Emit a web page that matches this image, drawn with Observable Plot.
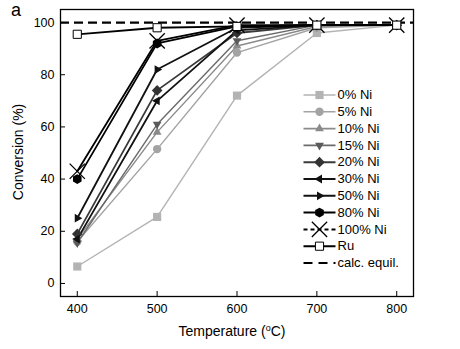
<!DOCTYPE html>
<html>
<head>
<meta charset="utf-8">
<script src="https://cdn.jsdelivr.net/npm/d3@7"></script>
<script src="https://cdn.jsdelivr.net/npm/@observablehq/plot@0.6"></script>
<style>
  html, body { margin: 0; padding: 0; background: #fff; }
  #chart { position: relative; width: 460px; height: 349px; }
  #panel { position: absolute; left: 11px; top: 0px; font: 18px "Liberation Sans", Arial, sans-serif; }
</style>
</head>
<body>
<div id="chart"><div id="panel">a</div></div>
<script>
// ---- data ----
const temperatures = [400, 500, 600, 700, 800];
const seriesNames = ["0% Ni", "5% Ni", "10% Ni", "15% Ni", "20% Ni", "30% Ni", "50% Ni", "80% Ni", "100% Ni", "Ru"];
const ni0   = [6.5, 25.5, 72, 96, 99];
const ni5   = [16, 51.5, 88.5, 98, 99];
const ni10  = [17, 58, 91, 98.5, 99];
const ni15  = [15.5, 61, 93, 99, 99];
const ni20  = [19, 74, 96, 99, 99];
const ni30  = [17, 70, 97, 99, 99];
const ni50  = [25, 82, 98, 99, 99];
const ni80  = [40, 92, 98.5, 99, 99];
const ni100 = [43, 93, 99, 99, 99];
const ru    = [95.5, 98, 98.5, 99, 99];
const equilibrium = 100;
const equilLabel = "calc. equil.";
const xTicks = [400, 500, 600, 700, 800];
const yTicks = [0, 20, 40, 60, 80, 100];
const xLabel = ["Temperature (", "o", "C)"];
const yLabel = "Conversion (%)";

const seriesValues = [ni0, ni5, ni10, ni15, ni20, ni30, ni50, ni80, ni100, ru];

// ---- custom symbols ----
function tri(angle) {
  return {
    draw(ctx, size) {
      const r = Math.sqrt(size / Math.PI) * 1.15;
      for (let k = 0; k < 3; k++) {
        const a = angle + k * 2 * Math.PI / 3;
        const px = r * Math.cos(a), py = r * Math.sin(a);
        if (k === 0) ctx.moveTo(px, py); else ctx.lineTo(px, py);
      }
      ctx.closePath();
    }
  };
}
const triUp = tri(-Math.PI / 2);
const triDown = tri(Math.PI / 2);
const triLeft = tri(Math.PI);
const triRight = tri(0);

const styles = [
  {color: "#b3b3b3", symbol: "square", fill: "#b3b3b3", r: 4.6},
  {color: "#a3a3a3", symbol: "circle", fill: "#a3a3a3", r: 4.2},
  {color: "#8a8a8a", symbol: triUp, fill: "#8a8a8a", r: 4.4},
  {color: "#6a6a6a", symbol: triDown, fill: "#5a5a5a", r: 4.4},
  {color: "#3a3a3a", symbol: "diamond2", fill: "#333", r: 4.8},
  {color: "#111", symbol: triLeft, fill: "#111", r: 4.4},
  {color: "#111", symbol: triRight, fill: "#111", r: 4.4},
  {color: "#000", symbol: "hexagon", fill: "#000", r: 4.3},
  {color: "#000", symbol: "times", fill: "none", stroke: "#000", r: 7},
  {color: "#000", symbol: "square", fill: "#fff", stroke: "#000", r: 4.6}
];

const table = [];
seriesNames.forEach((name, i) => {
  seriesValues[i].forEach((v, j) => table.push({series: name, idx: i, t: temperatures[j], v}));
});

// ---- layout helpers (pixel -> data for the in-plot legend) ----
const W = 460, H = 349;
const mL = 60, mR = 47, mT = 9, mB = 53;
const xDom = [379, 821], yDom = [-5, 105];
const px2x = p => xDom[0] + (p - mL) / (W - mL - mR) * (xDom[1] - xDom[0]);
const px2y = p => yDom[1] - (p - mT) / (H - mT - mB) * (yDom[1] - yDom[0]);

const legendRows = seriesNames.map((name, i) => ({name, i, y: px2y(94.5 + i * 16.8)}));
const equilRow = {name: equilLabel, y: px2y(94.5 + 10 * 16.8)};

const marks = [];
marks.push(Plot.ruleY([equilibrium], {stroke: "#000", strokeWidth: 2.2, strokeDasharray: "9,5"}));

seriesNames.forEach((name, i) => {
  const st = styles[i];
  const d = table.filter(r => r.idx === i);
  marks.push(Plot.line(d, {x: "t", y: "v", stroke: st.color, strokeWidth: i >= 4 ? 1.8 : 1.4}));
});
seriesNames.forEach((name, i) => {
  const st = styles[i];
  const d = table.filter(r => r.idx === i);
  marks.push(Plot.dot(d, {x: "t", y: "v", symbol: st.symbol, r: st.r, fill: st.fill,
    stroke: st.stroke || "none", strokeWidth: st.symbol === "times" ? 1.3 : 1}));
});

// legend
const lx1 = px2x(303), lx2 = px2x(335), lxm = px2x(319), ltx = px2x(337);
legendRows.forEach(row => {
  const st = styles[row.i];
  marks.push(Plot.link([row], {x1: lx1, x2: lx2, y1: "y", y2: "y", stroke: st.color, strokeWidth: row.i >= 4 ? 2 : 1.6,
    strokeDasharray: row.i === 8 ? "4,3" : null}));
  marks.push(Plot.dot([row], {x: lxm, y: "y", symbol: st.symbol, r: st.r, fill: st.fill,
    stroke: st.stroke || "none", strokeWidth: st.symbol === "times" ? 1.3 : 1}));
  marks.push(Plot.text([row], {x: ltx, y: "y", text: "name", textAnchor: "start", fontSize: 13, fill: "#000"}));
});
marks.push(Plot.link([equilRow], {x1: lx1, x2: lx2, y1: "y", y2: "y", stroke: "#000", strokeWidth: 2, strokeDasharray: "9,6"}));
marks.push(Plot.text([equilRow], {x: ltx, y: "y", text: "name", textAnchor: "start", fontSize: 13, fill: "#000"}));

// inward ticks
const xTickLen = 5 / ((H - mT - mB) / (yDom[1] - yDom[0]));
const yTickLen = 5 / ((W - mL - mR) / (xDom[1] - xDom[0]));
marks.push(Plot.ruleX(xTicks, {y1: yDom[0], y2: yDom[0] + xTickLen, stroke: "#000", strokeWidth: 1}));
marks.push(Plot.ruleY(yTicks, {x1: xDom[0], x2: xDom[0] + yTickLen, stroke: "#000", strokeWidth: 1}));

marks.push(Plot.axisX({ticks: xTicks, tickSize: 0, tickPadding: 8, tickFormat: d => String(d), fontSize: 12.5, label: null}));
marks.push(Plot.axisY({ticks: yTicks, tickSize: 0, tickPadding: 6, fontSize: 12.5, label: null}));
marks.push(Plot.frame({stroke: "#000", strokeWidth: 1.3}));

const chart = Plot.plot({
  width: W, height: H,
  marginLeft: mL, marginRight: mR, marginTop: mT, marginBottom: mB,
  x: {domain: xDom, label: null},
  y: {domain: yDom, label: null},
  style: {fontFamily: "'Liberation Sans', Arial, sans-serif", fontSize: "12.5px", color: "#000", background: "#fff"},
  marks
});
document.getElementById("chart").appendChild(chart);

// axis titles
const svg = d3.select(chart);
const xt = svg.append("text").attr("x", 232).attr("y", 336).attr("text-anchor", "middle")
  .attr("font-size", 14).attr("fill", "#000");
xt.append("tspan").text(xLabel[0]);
xt.append("tspan").attr("dy", -5).attr("font-size", 9).text(xLabel[1]);
xt.append("tspan").attr("dy", 5).text(xLabel[2]);
svg.append("text").attr("transform", "translate(23,152) rotate(-90)").attr("text-anchor", "middle")
  .attr("font-size", 14).attr("fill", "#000").text(yLabel);
</script>
</body>
</html>
